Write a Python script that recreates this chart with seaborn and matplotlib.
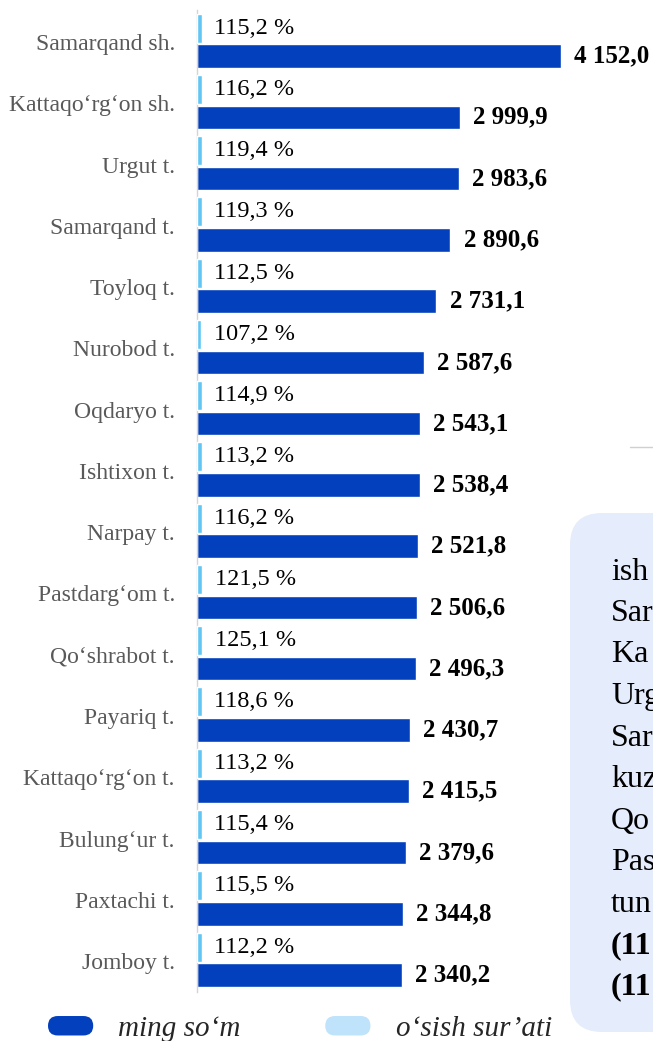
import numpy as np
import pandas as pd
import seaborn as sns
import matplotlib.pyplot as plt
import matplotlib.transforms as mtransforms
from matplotlib.patches import FancyBboxPatch, Patch
from matplotlib.lines import Line2D
from matplotlib.legend_handler import HandlerPatch

# ---------------- data ----------------
districts = ["Samarqand sh.", "Kattaqo‘rg‘on sh.", "Urgut t.", "Samarqand t.",
             "Toyloq t.", "Nurobod t.", "Oqdaryo t.", "Ishtixon t.", "Narpay t.",
             "Pastdarg‘om t.", "Qo‘shrabot t.", "Payariq t.", "Kattaqo‘rg‘on t.",
             "Bulung‘ur t.", "Paxtachi t.", "Jomboy t."]
values = [4152.0, 2999.9, 2983.6, 2890.6, 2731.1, 2587.6, 2543.1, 2538.4,
          2521.8, 2506.6, 2496.3, 2430.7, 2415.5, 2379.6, 2344.8, 2340.2]
growth = [115.2, 116.2, 119.4, 119.3, 112.5, 107.2, 114.9, 113.2,
          116.2, 121.5, 125.1, 118.6, 113.2, 115.4, 115.5, 112.2]
legend_labels = ["ming so‘m", "o‘sish sur’ati"]
side_text = ["ish", "Sar", "Ka", "Urg", "Sar", "kuz", "Qo", "Pas", "tun", "(11", "(11"]

DARK = "#0340BD"
LIGHT = "#62C6F5"
LIGHT_LEG = "#BEE3FA"
BOX = "#E5ECFB"

sns.set_style("white")
plt.rcParams["font.family"] = ["Liberation Serif", "DejaVu Serif"]

W, H = 653, 1041
fig = plt.figure(figsize=(W / 100, H / 100), dpi=100)

df = pd.DataFrame({"district": districts, "value": values, "growth": growth})

pitch = 61.27       # px per category
left_px = 197
dark_c0, light_c0 = 56, 28

# side text box (behind)
box = FancyBboxPatch((5.70, (H - 1032) / 100), 2.0, (1032 - 513) / 100,
                     boxstyle="round,pad=0,rounding_size=0.32",
                     transform=fig.dpi_scale_trans, facecolor=BOX,
                     edgecolor="none", zorder=0)
fig.patches.append(box)
for i, s in enumerate(side_text):
    fig.text(611 / W, 1 - (572 + 41.5 * i) / H, s, fontsize=23, va="center",
             ha="left", color="black",
             fontweight="bold" if s.startswith("(") else "normal")
fig.add_artist(Line2D([630 / W, 1.0], [1 - 447 / H] * 2, color="#D0D0D0",
                      lw=1, transform=fig.transFigure))

# main axes (dark bars)
ax = fig.add_axes([left_px / W, 0, (W - left_px) / W, 1])
ax.patch.set_alpha(0)
sns.barplot(data=df, y="district", x="value", color=DARK, saturation=1,
            width=23.5 / pitch, orient="h", ax=ax)
ax.set_ylim((H - dark_c0) / pitch, -dark_c0 / pitch)
ax.set_xlim(0, (W - left_px) / (364 / 4152.0))

# growth axes (light bars)
ax2 = fig.add_axes([left_px / W, 0, (W - left_px) / W, 1])
ax2.patch.set_alpha(0)
sns.barplot(data=df, y="district", x="growth", color=LIGHT, saturation=1,
            width=29 / pitch, orient="h", ax=ax2)
ax2.set_ylim((H - light_c0) / pitch, -light_c0 / pitch)
ax2.set_xlim(0, 11000)
ax2.axis("off")

val_labels = [f"{v:,.1f}".replace(",", " ").replace(".", ",") for v in values]
pct_labels = [f"{g:.1f} %".replace(".", ",") for g in growth]
ax.bar_label(ax.containers[0], labels=val_labels, padding=9.5, fontsize=18,
             fontweight="bold", color="black")
ax2.bar_label(ax2.containers[0], labels=pct_labels, padding=9, fontsize=17.5,
              color="black")

# axes styling
ax.set_xlabel("")
ax.set_ylabel("")
ax.set_xticks([])
ax.tick_params(axis="y", length=0, pad=16, labelsize=17, labelcolor="#595959")
offset = mtransforms.ScaledTranslation(0, 14 / 100, fig.dpi_scale_trans)
for lab in ax.get_yticklabels():
    lab.set_transform(lab.get_transform() + offset)
for sp in ["top", "right", "bottom"]:
    ax.spines[sp].set_visible(False)
ax.spines["left"].set_color("#D4D4D4")
ax.spines["left"].set_linewidth(1)
n = len(districts)
ax.spines["left"].set_bounds(-0.75, n - 1 + 0.28)


# legend with pill handles
class HandlerPill(HandlerPatch):
    def create_artists(self, legend, orig_handle, xdescent, ydescent, width,
                       height, fontsize, trans):
        p = FancyBboxPatch((-xdescent, -ydescent), width, height,
                           boxstyle=f"round,pad=0,rounding_size={height / 2}",
                           facecolor=orig_handle.get_facecolor(),
                           edgecolor="none", transform=trans)
        return [p]


handles = [Patch(facecolor=DARK), Patch(facecolor=LIGHT_LEG)]
fig.legend(handles, legend_labels, loc="center left",
           bbox_to_anchor=(48 / W, 1 - 1029 / H), ncol=2, frameon=False,
           borderpad=0, borderaxespad=0, handlelength=1.55, handleheight=0.65,
           handletextpad=0.86, columnspacing=2.9,
           prop={"style": "italic", "size": 21},
           handler_map={Patch: HandlerPill()})

fig.savefig("out.png", dpi=100)
